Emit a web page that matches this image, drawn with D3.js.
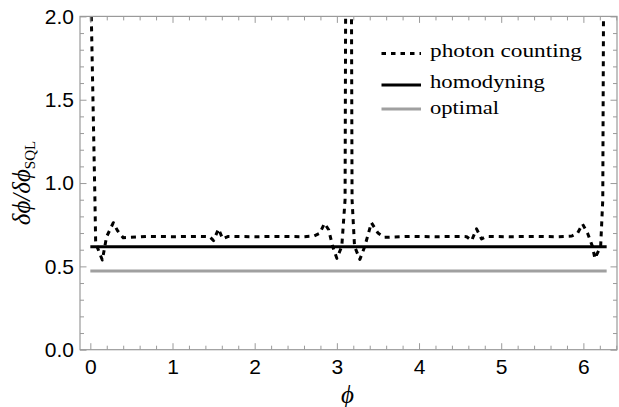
<!DOCTYPE html>
<html><head><meta charset="utf-8">
<script src="https://cdn.jsdelivr.net/npm/d3@7"></script>
<style>body{margin:0;background:#fff}svg{display:block}</style>
</head><body>
<svg id="c" width="619" height="407"></svg>
<script>
// ---- data ----
const phi = [0.000,0.056,0.065,0.146,0.198,0.280,0.330,0.400,0.70,1.00,1.30,1.45,1.50,1.56,1.61,1.68,2.00,2.30,2.60,2.72,2.79,2.85,2.90,2.95,3.00,3.06,3.10,3.1416,3.185,3.215,3.28,3.34,3.42,3.50,3.58,3.90,4.20,4.50,4.58,4.64,4.70,4.76,4.82,5.10,5.40,5.70,5.86,5.93,5.99,6.05,6.11,6.14,6.21,6.236,6.2832];
const photonCounting = [2.30,0.90,0.64,0.538,0.678,0.762,0.715,0.672,0.680,0.678,0.680,0.678,0.655,0.725,0.665,0.680,0.678,0.680,0.678,0.682,0.698,0.758,0.720,0.618,0.548,0.620,0.900,8.0,0.900,0.620,0.542,0.620,0.762,0.700,0.674,0.680,0.678,0.680,0.678,0.655,0.725,0.665,0.680,0.678,0.680,0.678,0.682,0.700,0.754,0.700,0.620,0.548,0.620,0.900,7.0];
const homodynePhi = [0, 6.2832];
const homodyning = [0.618, 0.618];
const optimal = [0.472, 0.472];
const xTicks = [0,1,2,3,4,5,6];
const yTicks = [0.0,0.5,1.0,1.5,2.0];
const legendLabels = ["photon counting","homodyning","optimal"];

// ---- layout ----
const svg = d3.select("#c");
const L = 80, R = 617, T = 16.4, B = 349.7;
const x = d3.scaleLinear().domain([-0.1257, 6.409]).range([L, R]);
const y = d3.scaleLinear().domain([0, 2]).range([B, T]);
const frameColor = "#9a9a9a";

svg.append("defs").append("clipPath").attr("id","clip")
  .append("rect").attr("x",L).attr("y",T).attr("width",R-L).attr("height",B-T);

const plot = svg.append("g").attr("clip-path","url(#clip)");
const line = d3.line().x(d=>x(d[0])).y(d=>y(d[1]));

plot.append("path").datum(homodynePhi.map((p,i)=>[p, optimal[i]]))
  .attr("d", line).attr("fill","none").attr("stroke","#a0a0a0").attr("stroke-width",3);
plot.append("path").datum(homodynePhi.map((p,i)=>[p, homodyning[i]]))
  .attr("d", line).attr("fill","none").attr("stroke","#000").attr("stroke-width",3);
plot.append("path").datum(phi.map((p,i)=>[p, photonCounting[i]]))
  .attr("d", line).attr("fill","none").attr("stroke","#000").attr("stroke-width",3)
  .attr("stroke-dasharray","5,5").attr("stroke-linejoin","round");

// ---- axes ----
const xMinor = d3.range(0, 6.41, 0.2).filter(v => Math.abs(v - Math.round(v)) > 1e-6 && v < 6.405);
const yMinor = d3.range(0, 2.001, 0.1).filter(v => Math.abs(v*2 - Math.round(v*2)) > 1e-6);

function styleAxis(g){
  g.select(".domain").remove();
  g.selectAll("line").attr("stroke", frameColor).attr("stroke-width",1);
  g.selectAll("text").attr("font-family","'Liberation Sans', Arial, sans-serif").attr("font-size",21).attr("fill","#000");
}
// bottom
svg.append("g").attr("transform",`translate(0,${B})`)
  .call(d3.axisBottom(x).tickValues(xTicks).tickFormat(d3.format("d")).tickSize(-6.5).tickPadding(10))
  .call(styleAxis).selectAll("text").attr("dy","0.71em").attr("y",9);
svg.append("g").attr("transform",`translate(0,${B})`)
  .call(d3.axisBottom(x).tickValues(xMinor).tickFormat("").tickSize(-4)).call(styleAxis);
// top
svg.append("g").attr("transform",`translate(0,${T})`)
  .call(d3.axisTop(x).tickValues(xTicks).tickFormat("").tickSize(-6.5)).call(styleAxis);
svg.append("g").attr("transform",`translate(0,${T})`)
  .call(d3.axisTop(x).tickValues(xMinor).tickFormat("").tickSize(-4)).call(styleAxis);
// left
svg.append("g").attr("transform",`translate(${L},0)`)
  .call(d3.axisLeft(y).tickValues(yTicks).tickFormat(d3.format(".1f")).tickSize(-6.5).tickPadding(6))
  .call(styleAxis).selectAll("text").attr("x",-6);
svg.append("g").attr("transform",`translate(${L},0)`)
  .call(d3.axisLeft(y).tickValues(yMinor).tickFormat("").tickSize(-4)).call(styleAxis);
// right
svg.append("g").attr("transform",`translate(${R},0)`)
  .call(d3.axisRight(y).tickValues(yTicks).tickFormat("").tickSize(-6.5)).call(styleAxis);
svg.append("g").attr("transform",`translate(${R},0)`)
  .call(d3.axisRight(y).tickValues(yMinor).tickFormat("").tickSize(-4)).call(styleAxis);

// frame
svg.append("rect").attr("x",L).attr("y",T).attr("width",R-L).attr("height",B-T)
  .attr("fill","none").attr("stroke",frameColor).attr("stroke-width",1.2);

// ---- labels ----
svg.append("text").attr("x",347.5).attr("y",403)
  .attr("text-anchor","middle").attr("font-family","'Liberation Serif','DejaVu Serif',serif")
  .attr("font-style","italic").attr("font-size",25).text("\u03D5");

const yl = svg.append("text").attr("transform","translate(30,183) rotate(-90)")
  .attr("text-anchor","middle").attr("font-family","'Liberation Serif','DejaVu Serif',serif")
  .attr("font-size",25);
yl.append("tspan").attr("font-style","italic").text("\u03B4\u03D5/\u03B4\u03D5");
yl.append("tspan").attr("font-size",15).attr("dy",5).text("SQL");

// ---- legend ----
const legY = [53.5, 85, 109];
const legBase = [56.7, 88.3, 114];
const legW = [152, 115, 69];
const legStyles = [
  {stroke:"#000", dash:"4.5,5"},
  {stroke:"#000", dash:null},
  {stroke:"#a0a0a0", dash:null}
];
legendLabels.forEach((lab,i)=>{
  svg.append("line").attr("x1",381.5).attr("x2",421).attr("y1",legY[i]).attr("y2",legY[i])
    .attr("stroke",legStyles[i].stroke).attr("stroke-width",3)
    .attr("stroke-dasharray",legStyles[i].dash);
  svg.append("text").attr("x",430).attr("y",legBase[i])
    .attr("font-family","'Liberation Serif',serif").attr("font-size",18.5)
    .attr("textLength",legW[i]).attr("lengthAdjust","spacingAndGlyphs").text(lab);
});
</script>
</body></html>
